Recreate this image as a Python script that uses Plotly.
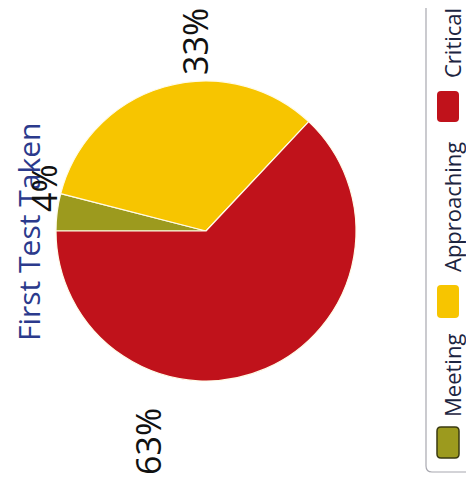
import plotly.graph_objects as go

# Screen is 474x490, the page body has an 8px margin
SW, SH = 474, 490
OFF = 8
W, H = SW - OFF, SH - OFF

# Data
categories = ["Meeting", "Approaching", "Critical"]
values = [4, 33, 63]
colors = ["#9c9a1e", "#f7c500", "#c0121b"]
title_text = "First Test Taken"

def px(x):
    return (x - OFF) / W

def py(y):
    return 1 - (y - OFF) / H

fig = go.Figure()
fig.add_trace(go.Pie(
    labels=categories,
    values=values,
    marker=dict(colors=colors, line=dict(color="#fffbe8", width=1.2)),
    sort=False,
    direction="clockwise",
    rotation=-90,
    textinfo="none",
    hoverinfo="label+percent",
    showlegend=False,
    domain=dict(x=[px(56), px(356)], y=[py(381), py(81)]),
))

annotations = []
shapes = []

# Title (rotated)
annotations.append(dict(
    text=title_text, x=px(28), y=py(232), xref="paper", yref="paper",
    textangle=-90, showarrow=False, xanchor="center", yanchor="middle",
    font=dict(family="Open Sans", size=30, color="#2b3a8c"),
))

# Percent labels
label_pos = {"Meeting": (44, 188), "Approaching": (195, 42), "Critical": (148, 442)}
for cat, v in zip(categories, values):
    x, y = label_pos[cat]
    annotations.append(dict(
        text=f"{v}%", x=px(x), y=py(y), xref="paper", yref="paper",
        textangle=-90, showarrow=False, xanchor="center", yanchor="middle",
        font=dict(family="Open Sans", size=34, color="#111111"),
    ))

# Legend box
def rounded_rect(x0, y0, x1, y1, r):
    X0, X1 = px(x0), px(x1)
    Y0, Y1 = py(y0), py(y1)
    rx, ry = r / W, r / H
    return (f"M {X0+rx},{Y0} L {X1-rx},{Y0} Q {X1},{Y0} {X1},{Y0-ry} "
            f"L {X1},{Y1+ry} Q {X1},{Y1} {X1-rx},{Y1} L {X0+rx},{Y1} "
            f"Q {X0},{Y1} {X0},{Y1+ry} L {X0},{Y0-ry} Q {X0},{Y0} {X0+rx},{Y0} Z")

shapes.append(dict(type="path", xref="paper", yref="paper",
                   path=rounded_rect(426, -10, 490, 472, 6),
                   line=dict(color="#a8a8b0", width=1.2), fillcolor="rgba(0,0,0,0)"))

legend_sq = {"Critical": (91, 122), "Approaching": (285, 318), "Meeting": (427, 458)}
legend_txt = {"Critical": 43, "Approaching": 207, "Meeting": 376}
sq_line = {"Critical": "rgba(0,0,0,0)", "Approaching": "rgba(0,0,0,0)", "Meeting": "#3a3a10"}
for cat, c in zip(categories, colors):
    y0, y1 = legend_sq[cat]
    shapes.append(dict(type="path", xref="paper", yref="paper",
                       path=rounded_rect(437, y0, 459, y1, 4),
                       line=dict(color=sq_line[cat], width=1.5), fillcolor=c))
    annotations.append(dict(
        text=cat, x=px(452), y=py(legend_txt[cat]), xref="paper", yref="paper",
        textangle=-90, showarrow=False, xanchor="center", yanchor="middle",
        font=dict(family="Open Sans", size=22, color="#1c2440"),
    ))

fig.update_layout(
    width=W, height=H,
    margin=dict(l=0, r=0, t=0, b=0),
    paper_bgcolor="white", plot_bgcolor="white",
    annotations=annotations, shapes=shapes,
    showlegend=False,
)

fig.write_html("out.html")
